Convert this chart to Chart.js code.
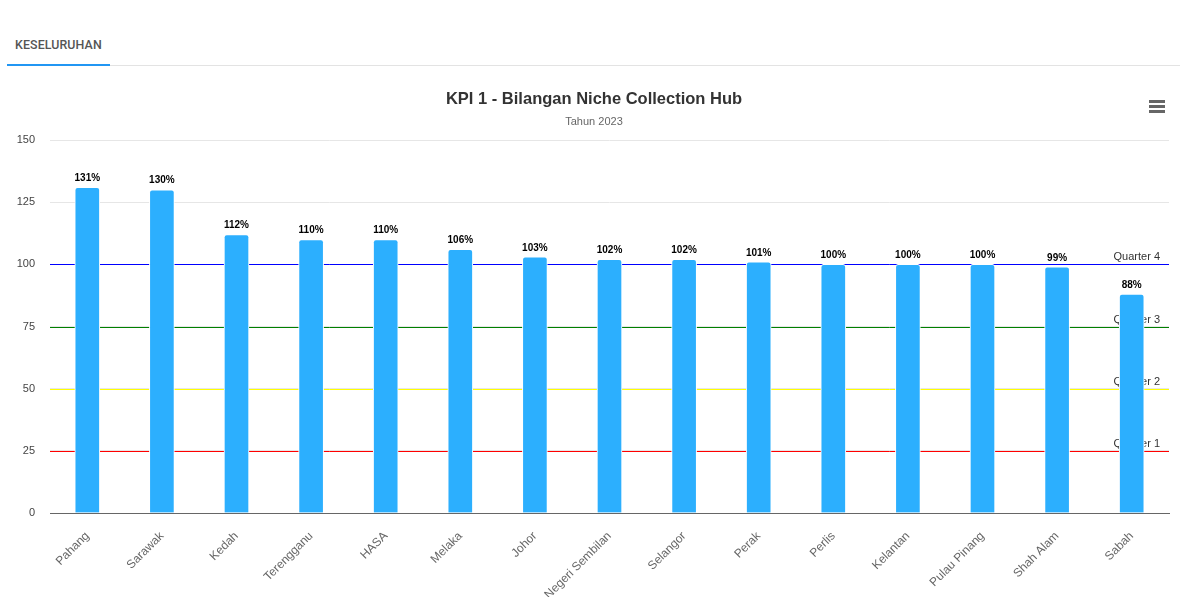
<!DOCTYPE html>
<html>
<head>
<meta charset="utf-8">
<script src="https://cdn.jsdelivr.net/npm/chart.js@4"></script>
<style>
  body { margin: 0; background: #fff; font-family: Roboto, "Liberation Sans", Arial, sans-serif; }
  #tabs { position: absolute; left: 7px; top: 0; width: 1173px; height: 65px; border-bottom: 1px solid #e3e3e3; }
  #tab { position: absolute; left: 0; top: 35px; width: 103px; height: 29px; border-bottom: 2px solid #2196f3; }
  #tab span { position: absolute; left: 8px; top: 2px; font-size: 12.4px; font-weight: 500; color: #555; letter-spacing: 0.1px; }
  #wrap { position: absolute; left: 0; top: 70px; width: 1188px; height: 527px; }
  #menu { position: absolute; left: 1149px; top: 100px; width: 16px; }
  #menu div { height: 3px; background: #666; margin-bottom: 2px; }
</style>
</head>
<body>
<div id="tabs"><div id="tab"><span>KESELURUHAN</span></div></div>
<div id="wrap"><canvas id="kpiChart"></canvas></div>
<div id="menu"><div></div><div></div><div></div></div>
<script>
//Data
const Categories = ["Pahang", "Sarawak", "Kedah", "Terengganu", "HASA", "Melaka", "Johor",
  "Negeri Sembilan", "Selangor", "Perak", "Perlis", "Kelantan", "Pulau Pinang", "Shah Alam", "Sabah"];
const Values = [131, 130, 112, 110, 110, 106, 103, 102, 102, 101, 100, 100, 100, 99, 88];
const YTicks = [0, 25, 50, 75, 100, 125, 150];
const QuarterLabels = ["Quarter 1", "Quarter 2", "Quarter 3", "Quarter 4"];
const QuarterValues = [25, 50, 75, 100];
const QuarterColours = ["red", "yellow", "green", "blue"];

const FONT = '"Liberation Sans", Arial, sans-serif';

//Quarter lines, drawn behind the bars
const quarterLines = {
  id: 'quarterLines',
  beforeDatasetsDraw(chart) {
    const ctx = chart.ctx, area = chart.chartArea, y = chart.scales.y;
    for (let i = 0; i < QuarterValues.length; i++) {
      const py = Math.round(y.getPixelForValue(QuarterValues[i])) + 0.5;
      ctx.save();
      ctx.strokeStyle = QuarterColours[i];
      ctx.lineWidth = 1;
      ctx.beginPath();
      ctx.moveTo(area.left, py);
      ctx.lineTo(area.right, py);
      ctx.stroke();
      ctx.restore();
      ctx.save();
      ctx.fillStyle = '#333';
      ctx.font = '11px ' + FONT;
      ctx.textAlign = 'right';
      ctx.textBaseline = 'alphabetic';
      ctx.fillText(QuarterLabels[i], area.right - 9, py - 5);
      ctx.restore();
    }
  }
};

//Percent labels above bars
const barLabels = {
  id: 'barLabels',
  afterDatasetsDraw(chart) {
    const ctx = chart.ctx;
    const meta = chart.getDatasetMeta(0);
    ctx.save();
    ctx.font = 'bold 10px ' + FONT;
    ctx.textAlign = 'center';
    ctx.textBaseline = 'middle';
    ctx.lineJoin = 'round';
    meta.data.forEach(function(bar, i) {
      const txt = Values[i] + '%';
      ctx.strokeStyle = '#fff';
      ctx.lineWidth = 2;
      ctx.strokeText(txt, bar.x, bar.y - 9);
      ctx.fillStyle = '#000';
      ctx.fillText(txt, bar.x, bar.y - 9);
    });
    ctx.restore();
  }
};

const config = {
  type: 'bar',
  data: {
    labels: Categories,
    datasets: [{
      data: Values,
      backgroundColor: '#2caffe',
      borderColor: '#ffffff',
      borderWidth: 1,
      borderRadius: 3,
      borderSkipped: 'bottom',
      barThickness: 25
    }]
  },
  options: {
    responsive: true,
    maintainAspectRatio: false,
    animation: false,
    layout: { padding: 0 },
    plugins: {
      legend: { display: false },
      tooltip: { enabled: false },
      title: {
        display: true,
        text: 'KPI 1 - Bilangan Niche Collection Hub',
        color: '#333',
        font: { family: FONT, size: 16.5, weight: 'bold' },
        padding: { top: 20, bottom: 3 }
      },
      subtitle: {
        display: true,
        text: 'Tahun 2023',
        color: '#666',
        font: { family: FONT, size: 11 },
        padding: { top: 3, bottom: 11 }
      }
    },
    scales: {
      x: {
        grid: { display: false, drawTicks: false },
        border: { display: true, color: '#666', width: 1 },
        ticks: {
          color: '#666',
          font: { family: FONT, size: 12 },
          minRotation: 45,
          maxRotation: 45,
          padding: 16,
          autoSkip: false
        },
        afterFit(scale) { scale.height = 84; }
      },
      y: {
        min: 0,
        max: 150,
        afterBuildTicks(scale) { scale.ticks = YTicks.map(function(v) { return { value: v }; }); },
        grid: { color: '#e6e6e6', drawTicks: false },
        border: { display: false },
        ticks: {
          color: '#444',
          font: { family: FONT, size: 11 },
          padding: 15
        },
        afterFit(scale) { scale.width = 50; }
      },
      //empty right-hand axis, only to leave the right margin
      yRight: {
        position: 'right',
        min: 0,
        max: 150,
        grid: { display: false, drawTicks: false },
        border: { display: false },
        ticks: { display: false },
        afterFit(scale) { scale.width = 19; }
      }
    }
  },
  plugins: [quarterLines, barLabels]
};

var chart = new Chart(document.getElementById('kpiChart'), config);
</script>
</body>
</html>
